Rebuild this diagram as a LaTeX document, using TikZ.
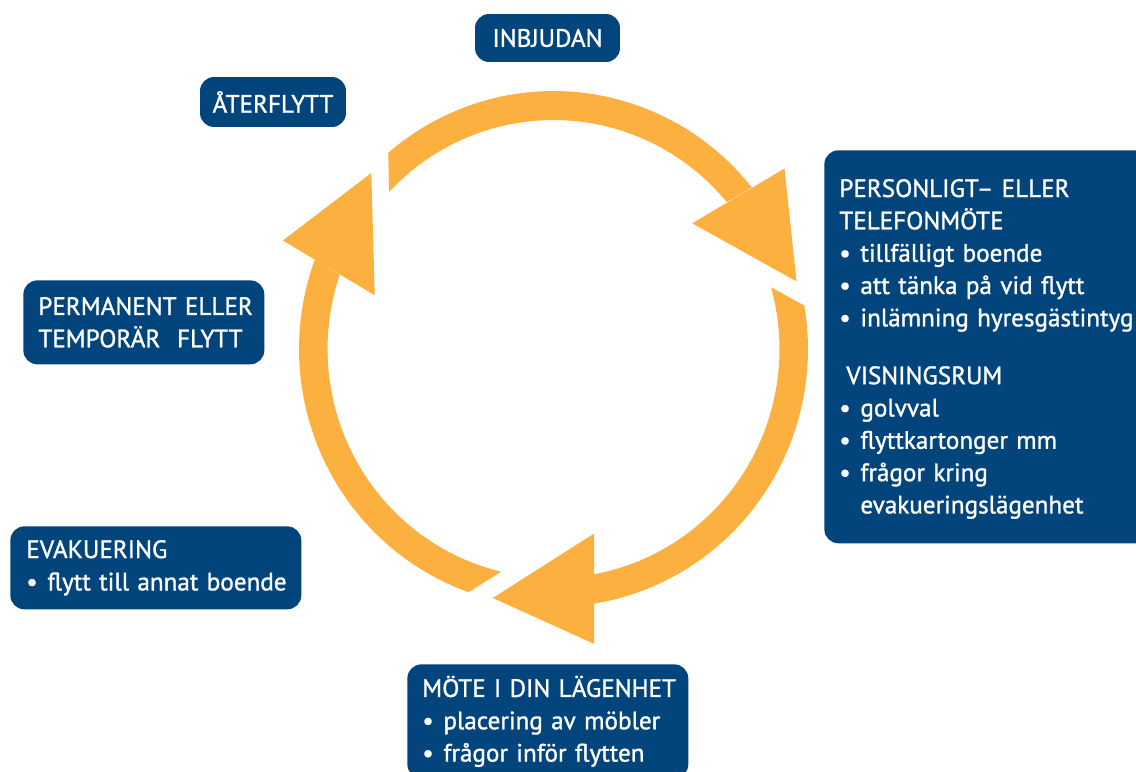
\documentclass[tikz,border=0pt]{standalone}
\usepackage{fontspec}
\setmainfont{PT Sans}[FakeBold=1.2]
\definecolor{boxblue}{RGB}{2,69,124}
\definecolor{ringorange}{RGB}{251,176,64}
\newcommand{\boxfont}{\fontsize{14.3}{18.4}\selectfont\hyphenpenalty=10000\relax}
\newcommand{\pkt}{\makebox[12pt][l]{\textbullet}}
\newcommand{\ringpart}[4]{\fill[ring] plot[domain=#1:#2,samples=40] ({553.5+254.5*cos(\x)},{349+258*sin(\x)})
  -- plot[domain=#3:#4,samples=40] ({553.5+226*cos(\x)},{349+229*sin(\x)}) -- cycle;}

\begin{document}
\begin{tikzpicture}[x=0.02cm,y=-0.02cm,
  box/.style={rounded corners=0.28cm,fill=boxblue,text=white,font=\boxfont,inner ysep=0pt},
  list box/.style={box,align=left,anchor=north west,inner xsep=0.3cm},
  ring/.style={fill=ringorange}]
  \useasboundingbox (0,0) rectangle (1136,771);
  % ring segments
  \ringpart{229.5}{321.2}{320.1}{223.3}
  \ringpart{-9.7}{80.9}{79.7}{-15.6}
  \ringpart{109.5}{200.3}{198.9}{103.4}
  % arrow heads
  \fill[ring] (784.5,168.5) -- (796.5,281.4) -- (692.2,223.3) -- cycle;
  \fill[ring] (594,533.6) -- (492.8,598) -- (594,643.8) -- cycle;
  \fill[ring] (282.8,240.5) -- (371.3,173) -- (374.7,295.2) -- cycle;
  % boxes
  \node[box,minimum width=2.9cm,minimum height=0.96cm] (inbjudan) at (547.5,38) {INBJUDAN};
  \node[box,minimum width=2.92cm,minimum height=1cm] (aterflytt) at (273,102) {ÅTERFLYTT};
  \node[list box,text width=6.2cm,minimum height=7.86cm] (mote1) at (824,150)
    {\rule{0pt}{12.6pt}PERSONLIGT–~ELLER\\TELEFONMÖTE\\\pkt tillfälligt~boende\\\pkt att~tänka~på~vid~flytt\\\pkt inlämning~hyresgästintyg\\[14.5pt]%
     \hspace*{4pt}VISNINGSRUM\\\pkt golvval\\\pkt flyttkartonger~mm\\\pkt frågor~kring\\\hspace*{12pt}evakueringslägenhet};
  \node[list box,text width=4.22cm,minimum height=1.68cm] (flytt) at (23,280)
    {PERMANENT~ELLER\\TEMPORÄR~~FLYTT};
  \node[list box,text width=5.18cm,minimum height=1.66cm,inner xsep=0.32cm] (evak) at (10,526)
    {EVAKUERING\\\pkt flytt~till~annat~boende};
  \node[list box,text width=5.02cm,minimum height=2.28cm] (mote2) at (407,664)
    {MÖTE~I~DIN~LÄGENHET\\\pkt placering~av~möbler\\\pkt frågor~inför~flytten};
\end{tikzpicture}
\end{document}
